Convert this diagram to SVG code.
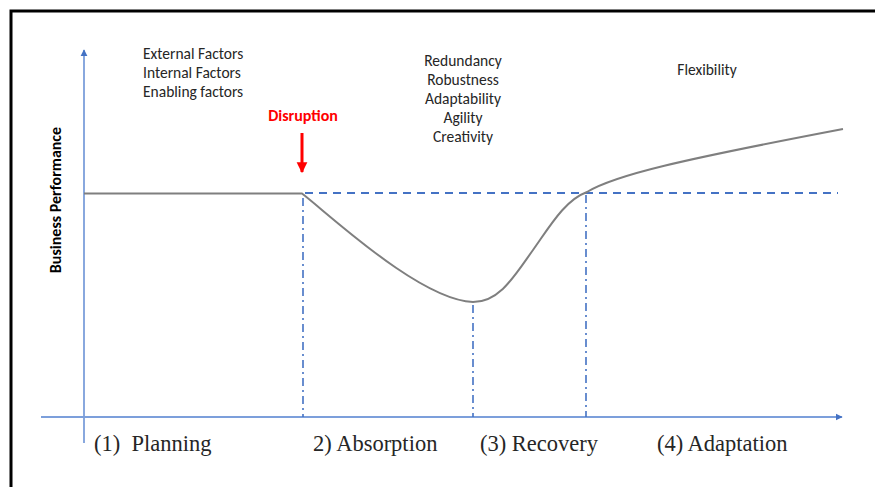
<svg xmlns="http://www.w3.org/2000/svg" width="875" height="487" viewBox="0 0 875 487">
<style>
.lbl{font-family:Carlito,"Liberation Sans",Arial,sans-serif;font-size:15.5px;fill:#262626}
.ph{font-family:"Liberation Serif","Times New Roman",serif;font-size:22.5px;fill:#262626}
.axis{stroke:#7C9FDB;stroke-width:1.8;fill:none}
.dash{stroke:#4472C4;stroke-width:2;fill:none;stroke-dasharray:8 6}
.dd{stroke:#4472C4;stroke-width:1.6;fill:none;stroke-dasharray:8 4 2 4}
.curve{stroke:#7F7F7F;stroke-width:2;fill:none}
</style>
<defs>
<marker id="ah" viewBox="0 0 10 10" refX="9" refY="5" markerWidth="4" markerHeight="4" orient="auto" markerUnits="strokeWidth">
<path d="M0,0 L10,5 L0,10 z" fill="#4472C4"/>
</marker>
<marker id="rh" viewBox="0 0 10 10" refX="9" refY="5" markerWidth="3.6" markerHeight="4" orient="auto" markerUnits="strokeWidth">
<path d="M0,0 L10,5 L0,10 z" fill="#FF0000"/>
</marker>
</defs>
<rect x="0" y="0" width="875" height="487" fill="#ffffff"/>
<rect id="frame" x="11" y="11" width="880" height="490" fill="none" stroke="#000" stroke-width="3"/>

<g id="connectors">
<line class="axis" x1="84" y1="443" x2="84" y2="50" marker-end="url(#ah)"/>
<line class="axis" x1="41" y1="417" x2="842" y2="417" marker-end="url(#ah)"/>
<line class="dash" x1="305" y1="193" x2="838" y2="193"/>
<line class="dd" x1="303" y1="198" x2="303" y2="417"/>
<line class="dd" x1="473" y1="305" x2="473" y2="417"/>
<line class="dd" x1="586" y1="195" x2="586" y2="417"/>
<path class="curve" d="M84,193.5 L302,193.5 C330,215 420,300 473,302 C500,302 515,275 533,250 C550,226 565,200 587,192 C615,175 680,160 843,129"/>
<line x1="302" y1="133" x2="302" y2="172" stroke="#FF0000" stroke-width="3" marker-end="url(#rh)"/>
</g>

<g id="ylabel">
<text transform="translate(61,200) rotate(-90)" text-anchor="middle" font-family="Carlito,'Liberation Sans',Arial,sans-serif" font-size="16" font-weight="bold" fill="#000">Business Performance</text>
</g>

<g id="factors">
<text class="lbl" x="143" y="59">External Factors</text>
<text class="lbl" x="143" y="78">Internal Factors</text>
<text class="lbl" x="143" y="97">Enabling factors</text>
</g>

<g id="disruption">
<text x="303" y="121" text-anchor="middle" font-family="Carlito,'Liberation Sans',Arial,sans-serif" font-size="16" font-weight="bold" fill="#FF0000">Disruption</text>
</g>

<g id="capabilities">
<text class="lbl" x="463" y="66" text-anchor="middle">Redundancy</text>
<text class="lbl" x="463" y="85" text-anchor="middle">Robustness</text>
<text class="lbl" x="463" y="104" text-anchor="middle">Adaptability</text>
<text class="lbl" x="463" y="123" text-anchor="middle">Agility</text>
<text class="lbl" x="463" y="142" text-anchor="middle">Creativity</text>
</g>

<g id="flexibility">
<text class="lbl" x="707" y="75" text-anchor="middle">Flexibility</text>
</g>

<g id="phases">
<text class="ph" x="94" y="451" xml:space="preserve">(1)  Planning</text>
<text class="ph" x="313" y="451">2) Absorption</text>
<text class="ph" x="480" y="451">(3) Recovery</text>
<text class="ph" x="657" y="451">(4) Adaptation</text>
</g>
</svg>
